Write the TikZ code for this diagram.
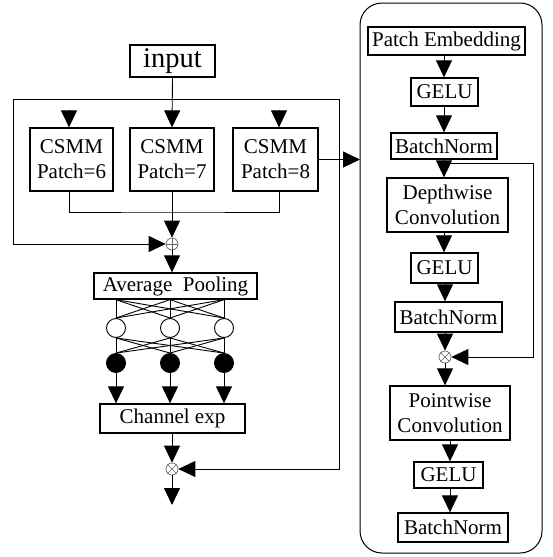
\documentclass[tikz,border=0pt]{standalone}
\usepackage{fontspec}
\setmainfont{Liberation Serif}
\usetikzlibrary{arrows.meta,calc}

\tikzset{
  box/.style={draw, line width=1.3pt, inner sep=0pt, align=center,
    font=\fontsize{21}{25}\selectfont},
  wire/.style={line width=0.9pt},
  arr/.style={wire, -{Triangle[length=17pt,width=16pt]}},
  opnode/.style={circle, draw=black!60, line width=0.7pt, minimum size=12pt, inner sep=0pt},
  hidden/.style={circle, draw, line width=0.9pt, minimum size=19pt, inner sep=0pt, fill=white},
  outunit/.style={circle, draw, line width=0.9pt, minimum size=19pt, inner sep=0pt, fill=black},
  panel/.style={draw, line width=1pt, rounded corners=22pt}
}

\begin{document}
\begin{tikzpicture}[x=1pt,y=-1pt]
\useasboundingbox (0,0) rectangle (552,557);

% ---------- left branch: multi-scale CSMM ----------
\node[box, minimum width=85pt, minimum height=32pt, font=\fontsize{28.5}{31}\selectfont] (in) at (172.5,61) {input};

\node[box, minimum width=83pt, minimum height=63pt] (c1) at (71.5,159.5) {CSMM\\Patch=6};
\node[box, minimum width=84pt, minimum height=63pt] (c2) at (172,159.5) {CSMM\\Patch=7};
\node[box, minimum width=85pt, minimum height=63pt] (c3) at (275.5,159.5) {CSMM\\Patch=8};

\coordinate (fl) at (13,99);
\coordinate (fr) at (339,99);
\coordinate (a1) at (69,110);
\coordinate (a3) at (279,110);
\coordinate (jn) at (172,212);

\node[opnode] (plus) at (172,244) {};
\draw[black!60, line width=0.6pt] (plus.north) -- (plus.south) (plus.west) -- (plus.east);

\draw[arr] (in.south) -- (c2.north);
\draw[arr] (a1) -- (a1 |- c1.north);
\draw[arr] (a3) -- (a3 |- c3.north);
\draw[wire] (c1.south -| a1) |- (jn) -| (c3.south -| a3);
\draw[arr] (c2.south) -- (plus.north);

% skip connection around the CSMM blocks
\draw[arr] (fr) -- (fl) |- (plus.west);

% ---------- channel attention ----------
\node[box, minimum width=163pt, minimum height=26pt] (avg) at (175.5,286) {Average\ \ Pooling};
\draw[arr] (plus.south) -- (plus.south |- avg.north);

\node[hidden] (h1) at (116,328) {};
\node[hidden] (h2) at (170,328) {};
\node[hidden] (h3) at (224,328) {};
\node[outunit] (o1) at (116,363) {};
\node[outunit] (o2) at (170,363) {};
\node[outunit] (o3) at (224,363) {};

\foreach \i in {1,2,3}{
  \foreach \j in {1,2,3}{
    \draw[wire] (avg.south -| h\i) -- (h\j.north);
    \draw[wire] (h\i.south) -- (o\j.north);
  }
}

\node[box, minimum width=145pt, minimum height=29pt] (chan) at (172.5,418.5) {Channel exp};
\foreach \i in {1,2,3}{
  \draw[arr] (o\i.south) -- (o\i.south |- chan.north);
}

\node[opnode] (mul) at (172,469) {};
\draw[black!60, line width=0.6pt] (mul.north east) -- (mul.south west) (mul.north west) -- (mul.south east);
\coordinate (out) at (172,505);

\draw[arr] (chan.south -| mul) -- (mul.north);
\draw[arr] (mul.south) -- (out);
\draw[arr] (fr) |- (mul.east);

% ---------- right panel: CSMM block detail ----------
\draw[panel] (360,3) rectangle (542,553);
\draw[arr] (c3.east) -- (360,159.5);

\node[box, minimum width=157pt, minimum height=28pt] (pe) at (446.5,41) {Patch Embedding};
\node[box, minimum width=67pt, minimum height=28pt] (g1) at (444.5,92) {GELU};
\node[box, minimum width=106pt, minimum height=26pt] (b1) at (444,146) {BatchNorm};
\node[box, minimum width=121pt, minimum height=54pt] (dw) at (447.5,205) {Depthwise\\Convolution};
\node[box, minimum width=67pt, minimum height=30pt] (g2) at (444.5,268) {GELU};
\node[box, minimum width=107pt, minimum height=30pt] (b2) at (448.5,317) {BatchNorm};
\node[opnode] (mul2) at (445,357) {};
\draw[black!60, line width=0.6pt] (mul2.north east) -- (mul2.south west) (mul2.north west) -- (mul2.south east);
\node[box, minimum width=120pt, minimum height=54pt] (pw) at (450,413) {Pointwise\\Convolution};
\node[box, minimum width=69pt, minimum height=26pt] (g3) at (448.5,475) {GELU};
\node[box, minimum width=110pt, minimum height=29pt] (b3) at (453,527.5) {BatchNorm};

% vertical axes of the arrows inside the panel
\coordinate (axa) at (444,0);
\coordinate (axb) at (445,0);
\coordinate (axc) at (450,0);
\coordinate (fbs) at (444,163);
\coordinate (fbr) at (533,163);

\draw[arr] (pe.south -| axa) -- (axa |- g1.north);
\draw[arr] (g1.south -| axa) -- (axa |- b1.north);
\draw[arr] (b1.south -| axa) -- (axa |- dw.north);
\draw[arr] (dw.south -| axa) -- (axa |- g2.north);
\draw[arr] (g2.south -| axb) -- (axb |- b2.north);
\draw[arr] (b2.south -| axb) -- (mul2.north);
\draw[arr] (mul2.south) -- (axb |- pw.north);
\draw[arr] (pw.south -| axc) -- (axc |- g3.north);
\draw[arr] (g3.south -| axc) -- (axc |- b3.north);
\draw[arr] (fbs) -- (fbr) |- (mul2.east);
\end{tikzpicture}
\end{document}
